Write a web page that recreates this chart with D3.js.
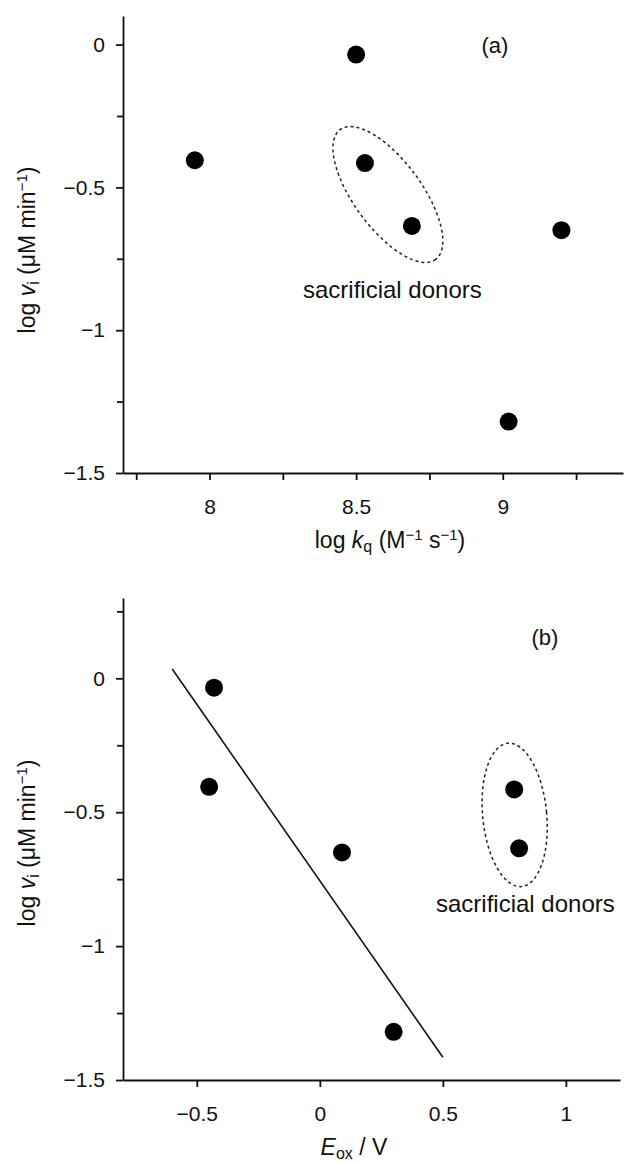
<!DOCTYPE html>
<html>
<head>
<meta charset="utf-8">
<script src="https://cdn.jsdelivr.net/npm/d3@7"></script>
<style>
  html, body { margin: 0; padding: 0; background: #fff; }
  svg { display: block; }
  text { font-family: "Liberation Sans", Arial, Helvetica, sans-serif; fill: #111; }
  .axis path, .axis line { stroke: #111; stroke-width: 1.8; }
</style>
</head>
<body>
<svg id="chart" width="625" height="1163"></svg>
<script>
// Initial rate (log v_i) against quenching constant (a) and oxidation potential (b)
const logKq = [7.95, 8.50, 8.53, 8.69, 9.20, 9.02];
const eOx   = [-0.45, -0.43, 0.79, 0.81, 0.09, 0.30];
const logVi = [-0.405, -0.035, -0.415, -0.635, -0.65, -1.32];
const sacrificial = [false, false, true, true, false, false];

// Least-squares line through the non-sacrificial donors (panel b)
const fitE = [-0.60, 0.50];
const fitV = [0.035, -1.415];

// Ticks
const aXMajor = [8, 8.5, 9];
const aXMinor = [7.75, 8.25, 8.75, 9.25];
const aYMajor = [0, -0.5, -1, -1.5];
const aYMinor = [-0.25, -0.75, -1.25];
const bXMajor = [-0.5, 0, 0.5, 1];
const bYMajor = [0, -0.5, -1, -1.5];
const bYMinor = [0.25, -0.25, -0.75, -1.25];

const panelLabels = ["(a)", "(b)"];
const groupLabel = "sacrificial donors";

const svg = d3.select("#chart");
const fmt = v => String(v).replace("-", "\u2212");
const TICK_FONT = 21;

function drawAxes(g, x, y, xMajor, xMinor, yMajor, yMinor) {
  const ax = g.append("g").attr("class", "axis")
    .attr("transform", `translate(0,${y.range()[0]})`)
    .call(d3.axisBottom(x).tickValues(xMajor).tickFormat(fmt)
      .tickSize(7).tickSizeOuter(0).tickPadding(19));
  ax.selectAll("text").style("font-size", TICK_FONT + "px");
  if (xMinor.length) {
    const axm = g.append("g").attr("class", "axis")
      .attr("transform", `translate(0,${y.range()[0]})`)
      .call(d3.axisBottom(x).tickValues(xMinor).tickFormat("").tickSize(7).tickSizeOuter(0));
    axm.select(".domain").remove();
  }
  const ay = g.append("g").attr("class", "axis")
    .attr("transform", `translate(${x.range()[0]},0)`)
    .call(d3.axisLeft(y).tickValues(yMajor).tickFormat(fmt)
      .tickSize(7).tickSizeOuter(0).tickPadding(11));
  ay.selectAll("text").style("font-size", TICK_FONT + "px");
  const aym = g.append("g").attr("class", "axis")
    .attr("transform", `translate(${x.range()[0]},0)`)
    .call(d3.axisLeft(y).tickValues(yMinor).tickFormat("").tickSize(6).tickSizeOuter(0));
  aym.select(".domain").remove();
}

function yTitle(g, cx, cy) {
  const t = g.append("text")
    .attr("transform", `translate(${cx},${cy}) rotate(-90)`)
    .attr("text-anchor", "middle")
    .style("font-size", "23px");
  t.append("tspan").text("log ");
  t.append("tspan").style("font-style", "italic").text("v");
  t.append("tspan").attr("baseline-shift", "-25%").style("font-size", "16px").text("i");
  t.append("tspan").text(" (\u03bcM min");
  t.append("tspan").attr("baseline-shift", "super").style("font-size", "15px").text("\u22121");
  t.append("tspan").text(")");
}

function drawPoints(g, xs, x, y) {
  g.append("g").selectAll("circle")
    .data(logVi.map((v, i) => ({ x: xs[i], y: v })))
    .join("circle")
    .attr("cx", d => x(d.x))
    .attr("cy", d => y(d.y))
    .attr("r", 9)
    .attr("fill", "#000");
}

function groupEllipse(g, cx, cy, rx, ry, angle) {
  g.append("ellipse")
    .attr("transform", `translate(${cx},${cy}) rotate(${angle})`)
    .attr("rx", rx).attr("ry", ry)
    .attr("fill", "none")
    .attr("stroke", "#222")
    .attr("stroke-width", 1.5)
    .attr("stroke-dasharray", "3,3");
}

// ---------- Panel (a) ----------
{
  const g = svg.append("g");
  const x = d3.scaleLinear().domain([7.705, 9.41]).range([123, 623]);
  const y = d3.scaleLinear().domain([-1.5, 0.1]).range([473, 16]);
  drawAxes(g, x, y, aXMajor, aXMinor, aYMajor, aYMinor);

  // dashed loop around the sacrificial donors
  const sx = logKq.filter((_, i) => sacrificial[i]);
  const sy = logVi.filter((_, i) => sacrificial[i]);
  groupEllipse(g, x(d3.mean(sx)) - 0.5, y(d3.mean(sy)), 80.6, 33.8, 53.7);

  drawPoints(g, logKq, x, y);

  g.append("text").attr("x", 303).attr("y", 298).style("font-size", "24px").text(groupLabel);
  g.append("text").attr("x", 495).attr("y", 53).attr("text-anchor", "middle")
    .style("font-size", "22px").text(panelLabels[0]);

  const xt = g.append("text").attr("x", 390).attr("y", 548)
    .attr("text-anchor", "middle").style("font-size", "23px");
  xt.append("tspan").text("log ");
  xt.append("tspan").style("font-style", "italic").text("k");
  xt.append("tspan").attr("baseline-shift", "-25%").style("font-size", "16px").text("q");
  xt.append("tspan").text(" (M");
  xt.append("tspan").attr("baseline-shift", "super").style("font-size", "15px").text("\u22121");
  xt.append("tspan").text(" s");
  xt.append("tspan").attr("baseline-shift", "super").style("font-size", "15px").text("\u22121");
  xt.append("tspan").text(")");

  yTitle(g, 35, 250);
}

// ---------- Panel (b) ----------
{
  const g = svg.append("g");
  const x = d3.scaleLinear().domain([-0.8, 1.22]).range([123, 620]);
  const y = d3.scaleLinear().domain([-1.5, 0.3]).range([1080, 598]);
  drawAxes(g, x, y, bXMajor, [], bYMajor, bYMinor);

  g.append("path")
    .datum(fitE.map((e, i) => [e, fitV[i]]))
    .attr("d", d3.line().x(d => x(d[0])).y(d => y(d[1])))
    .attr("fill", "none")
    .attr("stroke", "#111")
    .attr("stroke-width", 1.6);

  const sx = eOx.filter((_, i) => sacrificial[i]);
  const sy = logVi.filter((_, i) => sacrificial[i]);
  groupEllipse(g, x(d3.mean(sx)) - 2, y(d3.mean(sy)) - 4, 32, 72, -5.5);

  drawPoints(g, eOx, x, y);

  g.append("text").attr("x", 436).attr("y", 912).style("font-size", "24px").text(groupLabel);
  g.append("text").attr("x", 545).attr("y", 645).attr("text-anchor", "middle")
    .style("font-size", "22px").text(panelLabels[1]);

  const xt = g.append("text").attr("x", 354).attr("y", 1155)
    .attr("text-anchor", "middle").style("font-size", "23px");
  xt.append("tspan").style("font-style", "italic").text("E");
  xt.append("tspan").attr("baseline-shift", "-25%").style("font-size", "16px").text("ox");
  xt.append("tspan").text(" / V");

  yTitle(g, 35, 843);
}
</script>
</body>
</html>
